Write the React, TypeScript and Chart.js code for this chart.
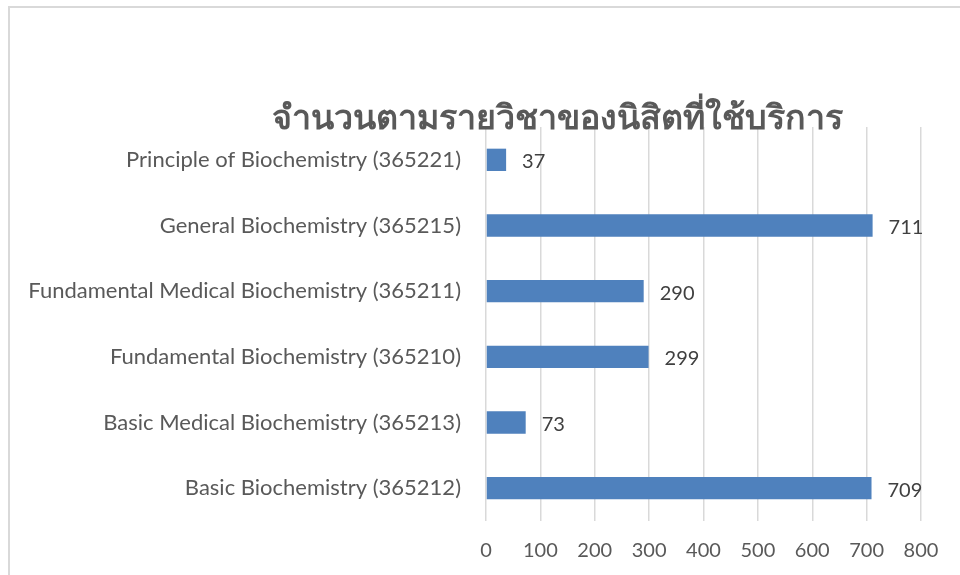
import React, { useEffect, useRef } from "react";
import { Chart, registerables } from "chart.js";

Chart.register(...registerables);

const categories = [
  "Principle of Biochemistry (365221)",
  "General Biochemistry (365215)",
  "Fundamental Medical Biochemistry (365211)",
  "Fundamental Biochemistry (365210)",
  "Basic Medical Biochemistry (365213)",
  "Basic Biochemistry (365212)",
];
const values = [37, 711, 290, 299, 73, 709];
const titleText = "จำนวนตามรายวิชาของนิสิตที่ใช้บริการ";
const xMin = 0;
const xMax = 800;
const xStep = 100;

const FONT = "Lato, 'Noto Sans', sans-serif";

export default function App() {
  const ref = useRef<HTMLCanvasElement | null>(null);
  useEffect(() => {
    if (!ref.current) return;
    const labelPlugin = {
      id: "valueLabels",
      afterDatasetsDraw(chart: any) {
        const ctx = chart.ctx;
        const meta = chart.getDatasetMeta(0);
        ctx.save();
        ctx.font = `20px ${FONT}`;
        ctx.fillStyle = "#404040";
        ctx.textAlign = "left";
        ctx.textBaseline = "middle";
        meta.data.forEach((bar: any, i: number) => {
          ctx.fillText(String(values[i]), bar.x + 16, bar.y + 2);
        });
        ctx.restore();
      },
    };
    const titlePlugin = {
      id: "customTitle",
      afterDraw(chart: any) {
        const ctx = chart.ctx;
        ctx.save();
        ctx.font = `bold 34px ${FONT}`;
        ctx.fillStyle = "#595959";
        ctx.textAlign = "center";
        ctx.textBaseline = "middle";
        ctx.fillText(titleText, 547, 110);
        ctx.restore();
      },
    };
    const chart = new Chart(ref.current, {
      type: "bar",
      data: {
        labels: categories,
        datasets: [
          {
            data: values,
            backgroundColor: "#4F81BD",
            categoryPercentage: 1,
            barPercentage: 0.34,
          },
        ],
      },
      options: {
        indexAxis: "y",
        responsive: false,
        animation: false,
        layout: { padding: { top: 119, right: 41, left: 0, bottom: 0 } },
        plugins: {
          legend: { display: false },
          title: { display: false },
          tooltip: { enabled: false },
        },
        scales: {
          x: {
            min: xMin,
            max: xMax,
            ticks: {
              stepSize: xStep,
              color: "#595959",
              font: { size: 20, family: FONT },
              padding: 18,
            },
            grid: { color: "#d9d9d9", lineWidth: 1.5, drawTicks: false },
            border: { display: false },
            afterFit: (s: any) => {
              s.height = 56;
            },
          },
          y: {
            ticks: {
              color: "#595959",
              font: { size: 22, family: FONT },
              padding: 17,
            },
            grid: { display: false },
            border: { display: false },
            afterFit: (s: any) => {
              s.width = 476;
            },
          },
        },
      },
      plugins: [labelPlugin, titlePlugin],
    });
    return () => chart.destroy();
  }, []);
  return (
    <div
      style={{
        position: "fixed",
        left: 8,
        top: 6,
        width: 1000,
        height: 620,
        border: "2px solid #d9d9d9",
        background: "#fff",
      }}
    >
      <canvas ref={ref} width={952} height={569} style={{ display: "block" }} />
    </div>
  );
}
